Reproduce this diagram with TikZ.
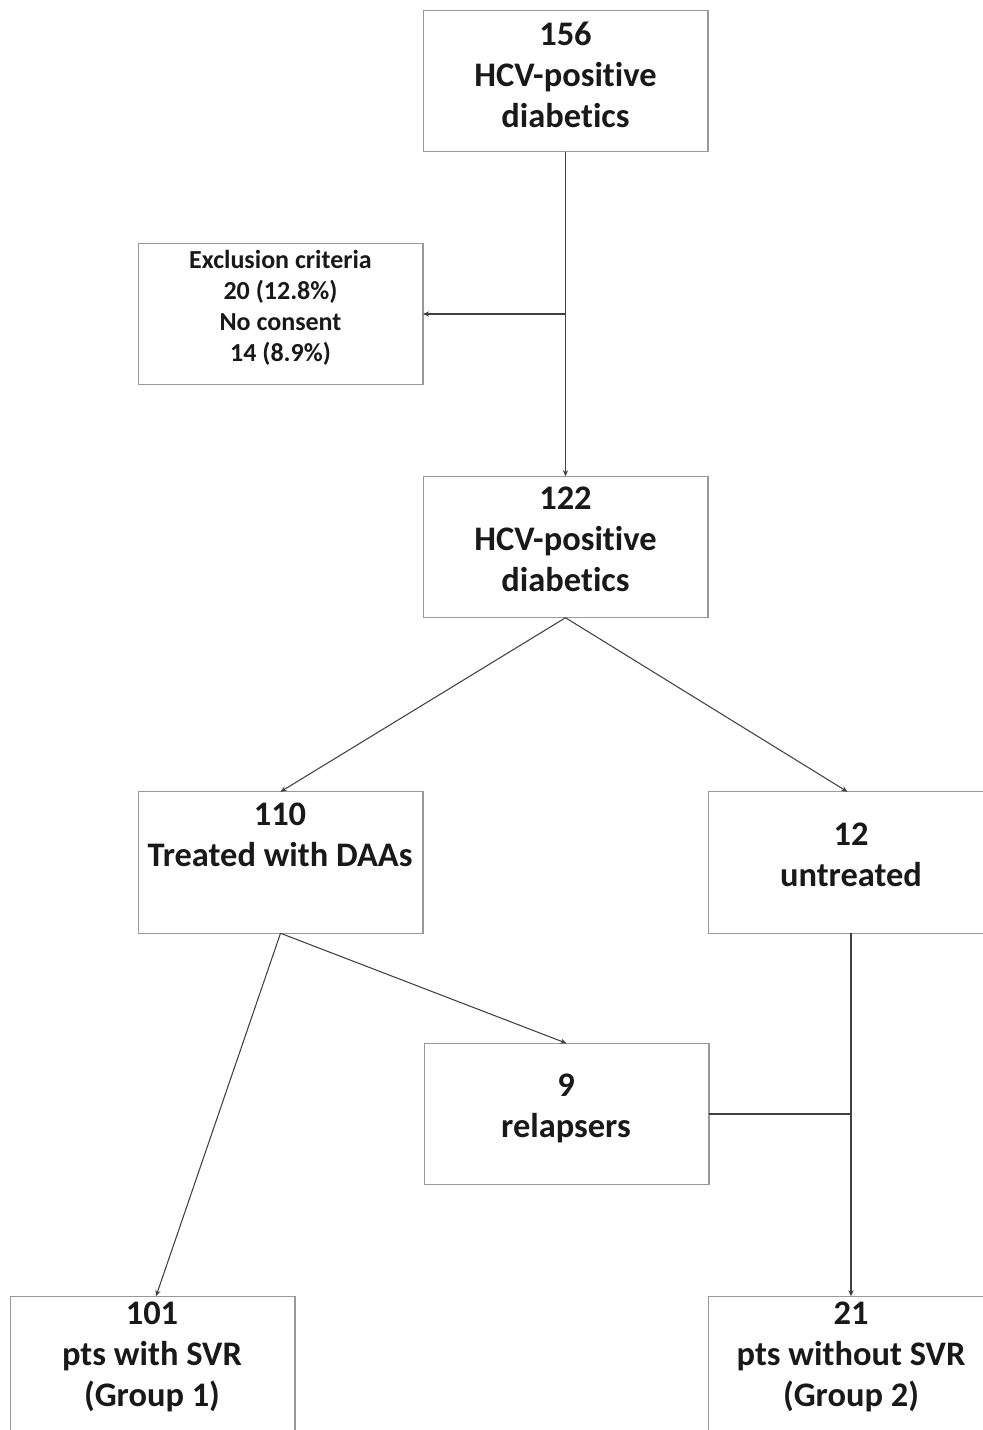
\documentclass[tikz,border=0pt]{standalone}
\usepackage{fontspec}
\setmainfont{Carlito}[Ligatures=NoCommon]
\usetikzlibrary{arrows.meta,positioning}

\begin{document}
\begin{tikzpicture}[
			x=0.02cm, y=-0.02cm,
			box/.style={rectangle, draw=black!40, line width=0.6pt, minimum width=5.7cm, minimum height=2.83cm, inner sep=0pt, outer sep=0pt},
			txt/.style={align=center, text=black!90, font=\fontsize{19.6}{23.3}\selectfont\bfseries, inner sep=0pt},
			small/.style={txt, font=\fontsize{14.8}{17.6}\selectfont\bfseries},
			arrow/.style={-{Stealth[length=3.5pt,width=3pt]}, line width=0.6pt, black!75},
			link/.style={line width=0.6pt, black!75}
		]
		\useasboundingbox (0,0) rectangle (983,1430);
		\clip (0,0) rectangle (983,1430);

		% Screened
		\node[box] (b1) at (565.5,81) {};
		\node[txt] (t1) at (565.5,75) {156\\HCV-positive\\diabetics};

		% Excluded
		\node[box] (bx) at (280.5,314) {};
		\node[small] (tx) at (280.5,308) {Exclusion criteria\\20 (12.8\%)\\No consent\\14 (8.9\%)};

		% Enrolled
		\node[box] (b2) at (565.5,547) {};
		\node[txt] (t2) at (565.5,539) {122\\HCV-positive\\diabetics};

		% Treated / untreated
		\node[box] (b3) at (280.5,862.5) {};
		\node[txt] (t3) at (280,834.5) {110\\Treated with DAAs};
		\node[box] (b4) at (851,862.5) {};
		\node[txt] (t4) at (851,854.5) {12\\untreated};

		% Relapsers
		\node[box] (b5) at (566.5,1114) {};
		\node[txt] (t5) at (566,1108) {9\\relapsers};

		% Groups
		\node[box] (b6) at (152.5,1367) {};
		\node[txt] (t6) at (152,1357) {101\\pts with SVR\\(Group 1)};
		\node[box] (b7) at (851,1367) {};
		\node[txt] (t7) at (851,1357) {21\\pts without SVR\\(Group 2)};

		% Arrows
		\coordinate (j1) at (b1.south |- bx.east);
		\coordinate (j2) at (b4.south |- b5.east);
		\draw[arrow] (b1.south) -- (b2.north);
		\draw[arrow] (j1) -- (bx.east);
		\draw[arrow] (b2.south) -- (b3.north);
		\draw[arrow] (b2.south) -- ([xshift=-2pt]b4.north);
		\draw[arrow] (b3.south) -- ([xshift=2pt]b6.north);
		\draw[arrow] (b3.south) -- (b5.north);
		\draw[arrow] (b4.south) -- (b4.south |- b7.north);
		\draw[link] (b5.east) -- (j2);

	\end{tikzpicture}
\end{document}
